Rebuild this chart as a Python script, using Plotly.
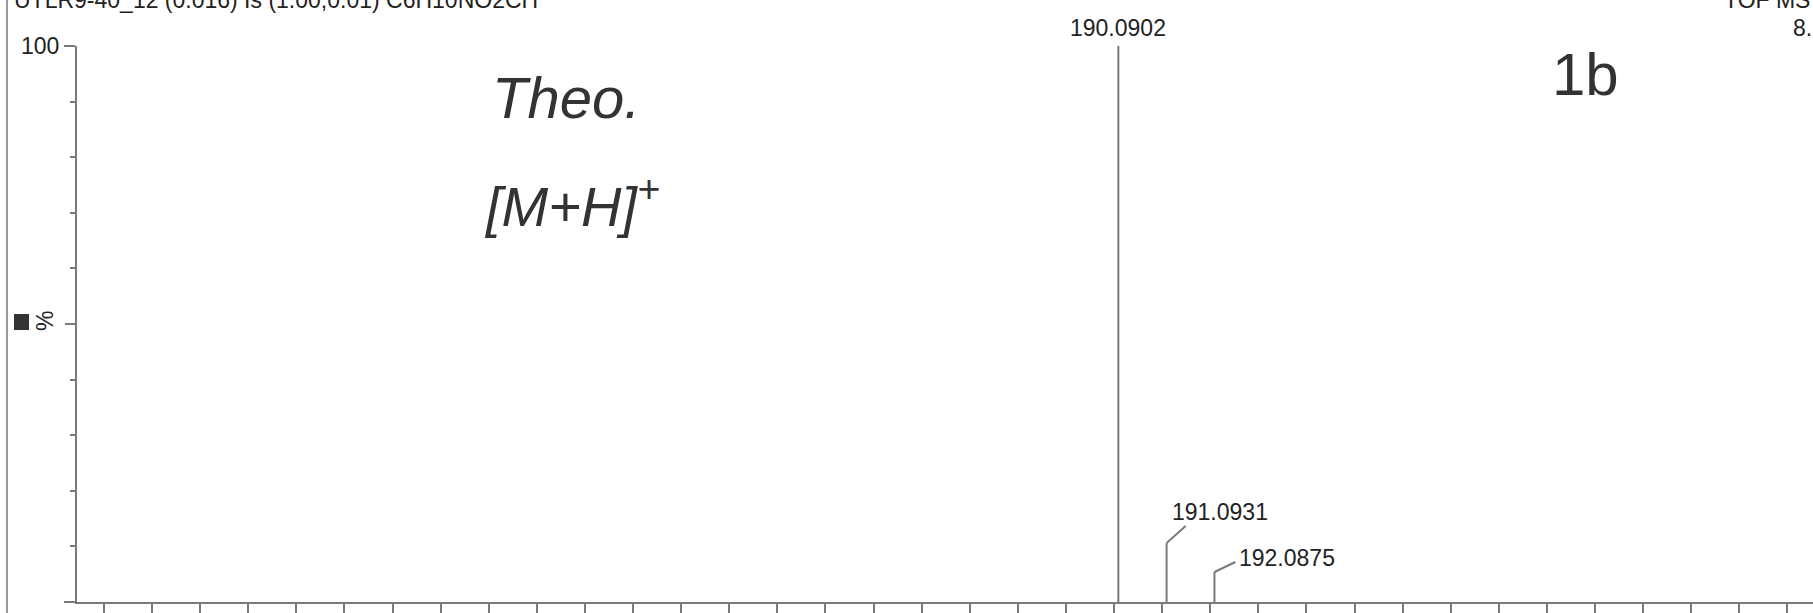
import plotly.graph_objects as go

# Isotope model peaks
mz = [190.0902, 191.0931, 192.0875]
intensity = [100.0, 10.6, 5.4]
peak_labels = ["190.0902", "191.0931", "192.0875"]

header_left = "UTLR9-40_12 (0.016) Is (1.00,0.01) C6H10NO2CH"
header_right = ["TOF MS ES+", "8.14e3"]
notes = ["Theo.", "[M+H]<sup>+</sup>", "1b"]

W, H = 1813, 613
PLOT_L, PLOT_T, PLOT_B = 77, 46, 602
X_MIN, PX_PER_UNIT = 168.44, 48.1
X_MAX = X_MIN + (W - PLOT_L) / PX_PER_UNIT

GREY = "#7a7a7a"
INK = "#222222"
PEN = "#333333"
FONT = "Liberation Sans, Arial, sans-serif"
HAND = "Liberation Sans Narrow, Liberation Sans, sans-serif"


def px_x(px):
    return (px - PLOT_L) / (W - PLOT_L)


def px_y(py):
    return (PLOT_B - py) / (PLOT_B - PLOT_T)


# stick spectrum
xs, ys = [], []
for m, i in zip(mz, intensity):
    xs += [m, m, None]
    ys += [0, i, None]

fig = go.Figure(
    go.Scatter(x=xs, y=ys, mode="lines", line=dict(color=GREY, width=2),
               hoverinfo="skip", showlegend=False)
)
# companion axis carrying only the long mid-scale tick
fig.add_trace(go.Scatter(x=[None], y=[None], yaxis="y2", showlegend=False,
                         hoverinfo="skip"))

annotations = []
shapes = []

# base peak label
annotations.append(dict(x=mz[0], xref="x", y=px_y(28), yref="paper",
                        text=peak_labels[0], showarrow=False,
                        xanchor="center", yanchor="middle",
                        font=dict(family=FONT, size=23, color=INK)))

# minor peaks: leader line + label
leaders = [(19, 17, 3, 31), (21, 10, 23, 14)]
for (m, i, lab), (lx, ly, tx, ty) in zip(zip(mz[1:], intensity[1:], peak_labels[1:]), leaders):
    shapes.append(dict(type="line", xref="x", yref="y",
                       xsizemode="pixel", xanchor=m, x0=0, x1=lx,
                       ysizemode="pixel", yanchor=i, y0=0, y1=ly,
                       line=dict(color=GREY, width=2)))
    annotations.append(dict(x=m, xref="x", y=i, yref="y", text=lab,
                            showarrow=False, xanchor="left", yanchor="middle",
                            xshift=tx, yshift=ty,
                            font=dict(family=FONT, size=23, color=INK)))

# header lines (partly outside the page)
annotations.append(dict(x=px_x(12), y=px_y(15), xref="paper", yref="paper",
                        text=header_left, showarrow=False,
                        xanchor="left", yanchor="bottom",
                        font=dict(family=FONT, size=23, color=INK)))
annotations.append(dict(x=px_x(1722), y=px_y(15), xref="paper", yref="paper",
                        text=header_right[0], showarrow=False,
                        xanchor="left", yanchor="bottom",
                        font=dict(family=FONT, size=23, color=INK)))
annotations.append(dict(x=px_x(1791), y=px_y(28), xref="paper", yref="paper",
                        text=header_right[1], showarrow=False,
                        xanchor="left", yanchor="middle",
                        font=dict(family=FONT, size=23, color=INK)))

# y-axis caption: marker square and rotated percent sign
shapes.append(dict(type="rect", xref="paper", yref="paper",
                   x0=px_x(14), x1=px_x(29), y0=px_y(330), y1=px_y(314),
                   fillcolor="#333333", line=dict(width=0)))
annotations.append(dict(x=px_x(45), y=px_y(321), xref="paper", yref="paper",
                        text="%", textangle=-90, showarrow=False,
                        xanchor="center", yanchor="middle",
                        font=dict(family=FONT, size=23, color=INK)))

# handwritten notes
annotations.append(dict(x=px_x(490), y=px_y(97), xref="paper", yref="paper",
                        text="<i>" + notes[0] + "</i>", showarrow=False,
                        xanchor="left", yanchor="middle",
                        font=dict(family=HAND, size=58, color=PEN)))
annotations.append(dict(x=px_x(482), y=px_y(202), xref="paper", yref="paper",
                        text="<i>" + notes[1] + "</i>", showarrow=False,
                        xanchor="left", yanchor="middle",
                        font=dict(family=HAND, size=56, color=PEN)))
annotations.append(dict(x=px_x(1550), y=px_y(74), xref="paper", yref="paper",
                        text=notes[2], showarrow=False,
                        xanchor="left", yanchor="middle",
                        font=dict(family=HAND, size=60, color=PEN)))

# window frame line on the left
shapes.append(dict(type="line", xref="paper", yref="paper",
                   x0=px_x(7), x1=px_x(7), y0=px_y(0), y1=px_y(H),
                   line=dict(color="#9a9a9a", width=2)))

fig.update_layout(
    width=W, height=H,
    margin=dict(l=PLOT_L, r=0, t=PLOT_T, b=H - PLOT_B, pad=0),
    paper_bgcolor="white", plot_bgcolor="white",
    annotations=annotations, shapes=shapes,
    xaxis=dict(range=[X_MIN, X_MAX], showgrid=False, zeroline=False,
               showline=True, linecolor=GREY, linewidth=2,
               ticks="outside", tickmode="linear", tick0=169, dtick=1,
               ticklen=11, tickwidth=1.5, tickcolor=GREY,
               showticklabels=False),
    yaxis=dict(range=[0, 100], showgrid=False, zeroline=False,
               showline=True, linecolor=GREY, linewidth=2,
               ticks="outside", tickvals=[0, 100],
               ticklen=11, tickwidth=1.5, tickcolor=GREY,
               minor=dict(dtick=10, ticks="outside", ticklen=5,
                          tickwidth=1.5, tickcolor=GREY),
               tickfont=dict(family=FONT, size=23, color=INK)),
    yaxis2=dict(range=[0, 100], overlaying="y", side="left", anchor="x",
                showgrid=False, zeroline=False, showline=False,
                ticks="outside", tickvals=[50], showticklabels=False,
                ticklen=11, tickwidth=1.5, tickcolor=GREY),
)

fig.write_html("out.html")
